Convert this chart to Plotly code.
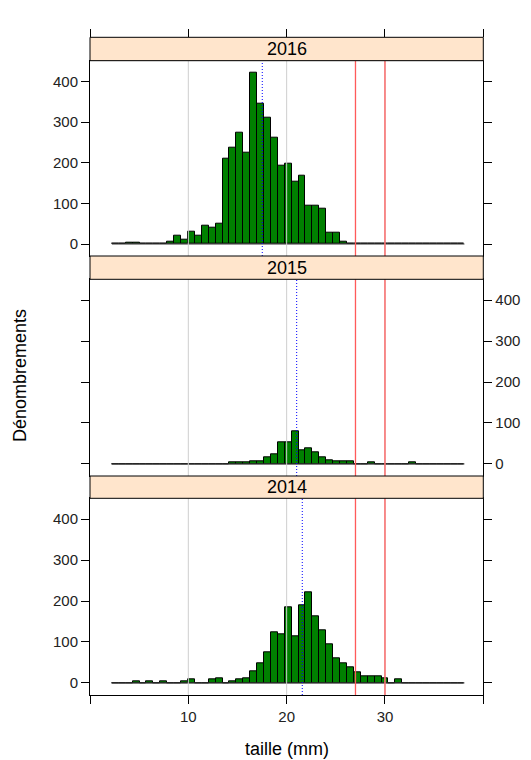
import plotly.graph_objects as go

# ---------------- data ----------------
YEARS = ["2016", "2015", "2014"]
BIN_START = 2.23      # mm, first histogram break
BIN_WIDTH = 0.703     # mm
N_BINS = 51

counts_2016 = [0, 0, 4, 4, 0, 0, 0, 0, 6, 20, 11, 31, 20, 45, 39, 51, 209, 238, 273, 224,
               421, 346, 312, 261, 192, 197, 153, 168, 95, 95, 88, 29, 29, 6,
               0, 0, 0, 0, 0, 0, 0, 0, 0, 0, 0, 0, 0, 0, 0, 0, 0]
counts_2015 = [0, 0, 0, 0, 0, 0, 0, 0, 0, 0, 0, 0, 0, 0, 0, 0, 0,
               3, 3, 3, 7, 7, 15, 24, 52, 52, 79, 33, 39, 29, 15, 10, 7, 7, 7,
               0, 0, 4, 0, 0, 0, 0, 0, 4, 0, 0, 0, 0, 0, 0, 0]
counts_2014 = [0, 0, 0, 4, 0, 4, 0, 4, 0, 0, 4, 8, 0, 0, 8, 11, 0, 4, 8, 11,
               29, 47, 75, 123, 119, 185, 113, 189, 221, 163, 129, 95, 59, 47, 39, 25,
               15, 15, 15, 11, 0, 8, 0, 0, 0, 0, 0, 0, 0, 0, 0]
COUNTS = [counts_2016, counts_2015, counts_2014]
MEDIANS = [17.52, 21.02, 21.59]       # blue dotted line per panel
RED_LINES = [27, 30]
GRID_X = [10, 20, 30]
X_TICKS = [0, 10, 20, 30, 40]
X_TICK_LABELS = ["", "10", "20", "30", ""]
Y_TICKS = [0, 100, 200, 300, 400]
X_RANGE = [0, 40]
Y_RANGE = [-29.5, 451]

# ---------------- style / layout ----------------
W, H = 531, 760
FONT = "Liberation Sans, Arial, sans-serif"
GREEN = "#008000"
STRIP_BG = "#ffe5cc"

def fx(p):
    return p / W

def fy(p):
    return 1 - p / H

PX_L, PX_R = 90, 483.3
# (strip top, strip bottom/panel top, panel bottom) in pixels
PANELS = [(37.3, 60.7, 256.0), (256.0, 279.3, 476.0), (476.0, 498.3, 695.0)]

edges = [BIN_START + i * BIN_WIDTH for i in range(N_BINS + 1)]
centers = [(edges[i] + edges[i + 1]) / 2 for i in range(N_BINS)]

fig = go.Figure()
shapes = []
annotations = []
layout = dict(
    width=W, height=H, margin=dict(l=0, r=0, t=0, b=0),
    paper_bgcolor="white", plot_bgcolor="white", showlegend=False,
    bargap=0, barmode="overlay",
    font=dict(family=FONT, size=15, color="#222"),
)

for i, (year, counts, med) in enumerate(zip(YEARS, COUNTS, MEDIANS)):
    n = "" if i == 0 else str(i + 1)
    xa, ya = "x" + n, "y" + n
    st, pt, pb = PANELS[i]
    fig.add_trace(go.Bar(
        x=centers, y=counts, width=BIN_WIDTH, xaxis=xa, yaxis=ya,
        marker=dict(color=GREEN, line=dict(color="black", width=1)),
        hoverinfo="x+y",
    ))
    is_bottom = (i == len(YEARS) - 1)
    layout["xaxis" + n] = dict(
        domain=[fx(PX_L), fx(PX_R)], range=X_RANGE, anchor=ya,
        tickvals=X_TICKS, ticktext=X_TICK_LABELS,
        showticklabels=is_bottom, ticks="outside" if is_bottom else "",
        ticklen=8, tickcolor="black", showgrid=False, zeroline=False,
        showline=True, mirror=True, linecolor="black", linewidth=1,
        tickfont=dict(size=15, color="#222"),
    )
    layout["yaxis" + n] = dict(
        domain=[fy(pb), fy(pt)], range=Y_RANGE, anchor=xa,
        tickvals=Y_TICKS, ticks="outside", ticklen=8, tickcolor="black",
        side="right" if i == 1 else "left", showgrid=False, zeroline=False,
        showline=True, mirror="ticks", linecolor="black", linewidth=1,
        tickfont=dict(size=15, color="#222"),
    )
    # baseline across the histogram breaks
    shapes.append(dict(type="line", xref=xa, yref=ya, x0=edges[0], x1=edges[-1],
                       y0=0, y1=0, line=dict(color="#333", width=1), layer="above"))
    for g in GRID_X:
        shapes.append(dict(type="line", xref=xa, yref=ya + " domain", x0=g, x1=g,
                           y0=0, y1=1, line=dict(color="#cfcfcf", width=1), layer="above"))
    for r in RED_LINES:
        shapes.append(dict(type="line", xref=xa, yref=ya + " domain", x0=r, x1=r,
                           y0=0, y1=1, line=dict(color="#ff5a5a", width=1.3), layer="above"))
    shapes.append(dict(type="line", xref=xa, yref=ya + " domain", x0=med, x1=med,
                       y0=0, y1=1, line=dict(color="blue", width=1, dash="1px,2px"),
                       layer="above"))
    # strip
    shapes.append(dict(type="rect", xref="paper", yref="paper",
                       x0=fx(PX_L), x1=fx(PX_R), y0=fy(pt), y1=fy(st),
                       fillcolor=STRIP_BG, line=dict(color="black", width=1), layer="above"))
    annotations.append(dict(text=year, xref="paper", yref="paper",
                            x=fx((PX_L + PX_R) / 2), y=fy((st + pt) / 2),
                            xanchor="center", yanchor="middle", showarrow=False,
                            font=dict(size=18, color="black", family=FONT)))

# top tick marks above the first strip
fig.add_trace(go.Scatter(x=[], y=[], xaxis="x4", yaxis="y", showlegend=False))
layout["xaxis4"] = dict(
    domain=[fx(PX_L), fx(PX_R)], range=X_RANGE, overlaying="x", anchor="free",
    position=fy(PANELS[0][0]), side="top", tickvals=X_TICKS, showticklabels=False,
    ticks="outside", ticklen=8, tickcolor="black", showgrid=False, zeroline=False,
    showline=False,
)

annotations.append(dict(text="taille (mm)", xref="paper", yref="paper",
                        x=fx((PX_L + PX_R) / 2), y=fy(749), xanchor="center",
                        yanchor="middle", showarrow=False,
                        font=dict(size=18, color="black", family=FONT)))
annotations.append(dict(text="Dénombrements", xref="paper", yref="paper",
                        x=fx(20), y=fy(376), textangle=-90, xanchor="center",
                        yanchor="middle", showarrow=False,
                        font=dict(size=18, color="black", family=FONT)))

layout["shapes"] = shapes
layout["annotations"] = annotations
fig.update_layout(**layout)
fig.write_html("out.html", config={"displayModeBar": False},
               post_script="document.body.style.margin='0';document.body.style.padding='0';")
